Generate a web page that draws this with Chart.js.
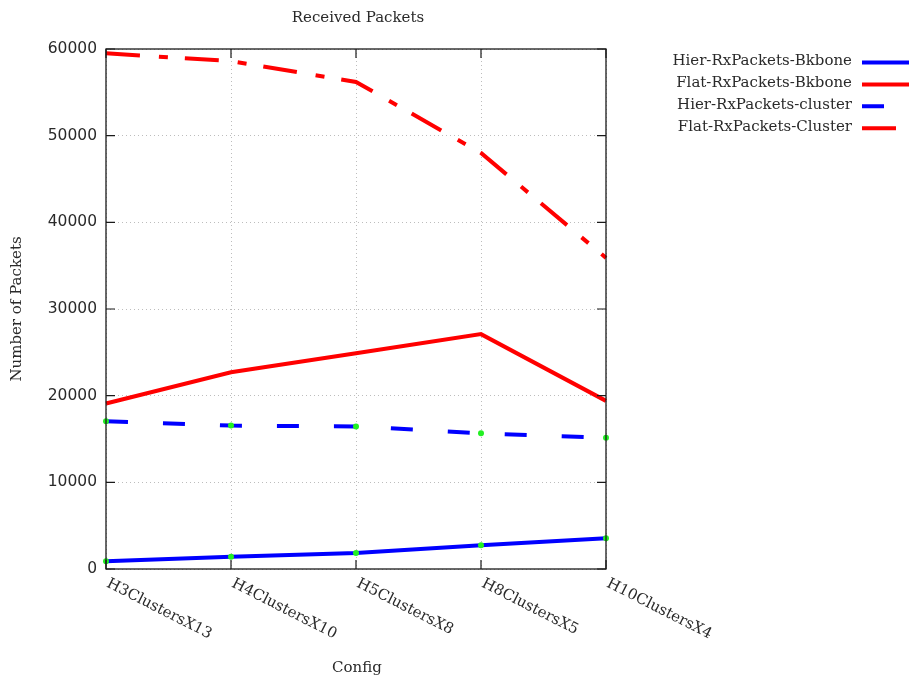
<!DOCTYPE html>
<html>
<head>
<meta charset="utf-8">
<script src="https://cdn.jsdelivr.net/npm/chart.js@4.4.1/dist/chart.umd.min.js"></script>
<style>
html,body{margin:0;padding:0;background:#fff;}
#wrap{width:909px;height:680px;position:relative;}
</style>
</head>
<body>
<div id="wrap"><canvas id="c" width="909" height="680"></canvas></div>
<script>
// ---- data ----
const categories = ["H3ClustersX13","H4ClustersX10","H5ClustersX8","H8ClustersX5","H10ClustersX4"];
const hierBkbone  = [900, 1400, 1850, 2750, 3550];
const flatBkbone  = [19100, 22700, 24900, 27100, 19400];
const hierCluster = [17050, 16550, 16450, 15650, 15150];
const flatCluster = [59500, 58600, 56200, 48000, 35900];
const yTicks = [0, 10000, 20000, 30000, 40000, 50000, 60000];
const seriesNames = ["Hier-RxPackets-Bkbone","Flat-RxPackets-Bkbone","Hier-RxPackets-cluster","Flat-RxPackets-Cluster"];
const titleText = "Received Packets";
const xTitle = "Config";
const yTitle = "Number of Packets";

const SERIF = '"DejaVu Serif", serif';
const SANS = '"DejaVu Sans", sans-serif';
const TXT = '#2a2a2a';

const overlay = {
  id: 'overlay',
  afterDraw(chart) {
    const ctx = chart.ctx;
    const a = chart.chartArea;
    const xs = chart.scales.x, ys = chart.scales.y;
    ctx.save();
    ctx.strokeStyle = '#1a1a1a';
    ctx.lineWidth = 1.3;
    ctx.setLineDash([]);
    ctx.strokeRect(a.left, a.top, a.right - a.left, a.bottom - a.top);
    ctx.lineWidth = 1.2;
    ctx.beginPath();
    yTicks.forEach(v => {
      const y = ys.getPixelForValue(v);
      ctx.moveTo(a.left, y); ctx.lineTo(a.left + 9, y);
      ctx.moveTo(a.right, y); ctx.lineTo(a.right - 9, y);
    });
    categories.forEach((c, i) => {
      const x = xs.getPixelForValue(i);
      ctx.moveTo(x, a.bottom); ctx.lineTo(x, a.bottom - 9);
      ctx.moveTo(x, a.top); ctx.lineTo(x, a.top + 9);
    });
    ctx.stroke();

    ctx.fillStyle = TXT;
    ctx.font = '15px ' + SERIF;
    ctx.textAlign = 'center';
    ctx.textBaseline = 'middle';
    ctx.fillText(titleText, (a.left + a.right) / 2 + 2, 18);
    ctx.fillText(xTitle, (a.left + a.right) / 2 + 1, 668);
    ctx.save();
    ctx.translate(17, (a.top + a.bottom) / 2);
    ctx.rotate(-Math.PI / 2);
    ctx.fillText(yTitle, 0, 0);
    ctx.restore();

    categories.forEach((c, i) => {
      const x = xs.getPixelForValue(i);
      ctx.save();
      ctx.translate(x + 5, a.bottom + 7);
      ctx.rotate(27 * Math.PI / 180);
      ctx.textAlign = 'left';
      ctx.textBaseline = 'top';
      ctx.fillText(c, 0, 0);
      ctx.restore();
    });

    chart.data.datasets.forEach((ds, i) => {
      const y = 61.5 + i * 21.9;
      ctx.fillStyle = TXT;
      ctx.textAlign = 'right';
      ctx.textBaseline = 'middle';
      ctx.fillText(ds.label, 852, y);
      ctx.strokeStyle = ds.borderColor;
      ctx.lineWidth = 4;
      ctx.setLineDash(ds.borderDash || []);
      ctx.beginPath();
      ctx.moveTo(862, y + 1);
      ctx.lineTo(930, y + 1);
      ctx.stroke();
    });
    ctx.restore();
  }
};

const green = '#22f022';
new Chart(document.getElementById('c'), {
  type: 'line',
  data: {
    labels: categories,
    datasets: [
      { label: seriesNames[0], data: hierBkbone, borderColor: '#0000ff', borderWidth: 4, borderDash: [],
        pointRadius: 3, pointBackgroundColor: green, pointBorderColor: green, pointBorderWidth: 0 },
      { label: seriesNames[1], data: flatBkbone, borderColor: '#ff0000', borderWidth: 4, borderDash: [],
        pointRadius: 0 },
      { label: seriesNames[2], data: hierCluster, borderColor: '#0000ff', borderWidth: 4, borderDash: [22, 35],
        pointRadius: 3, pointBackgroundColor: green, pointBorderColor: green, pointBorderWidth: 0 },
      { label: seriesNames[3], data: flatCluster, borderColor: '#ff0000', borderWidth: 4, borderDash: [34, 19, 9, 17],
        pointRadius: 0 }
    ]
  },
  options: {
    responsive: false,
    animation: false,
    events: [],
    layout: { padding: { left: 0, top: 49, right: 303, bottom: 0 } },
    plugins: { legend: { display: false }, title: { display: false }, tooltip: { enabled: false } },
    elements: { line: { tension: 0, borderCapStyle: 'butt' } },
    scales: {
      x: {
        type: 'category',
        offset: false,
        ticks: { display: false },
        grid: { display: true, drawTicks: false, color: '#bdbdbd', lineWidth: 1 },
        border: { display: false, dash: [1, 3] },
        afterFit(scale) { scale.height = 111; }
      },
      y: {
        min: 0, max: 60000,
        afterBuildTicks(scale) { scale.ticks = yTicks.map(v => ({ value: v })); },
        ticks: { color: TXT, font: { family: SANS, size: 15.5 }, padding: 9, callback: v => String(v) },
        grid: { display: true, drawTicks: false, color: '#bdbdbd', lineWidth: 1 },
        border: { display: false, dash: [1, 3] },
        afterFit(scale) { scale.width = 106; }
      }
    }
  },
  plugins: [overlay]
});
</script>
</body>
</html>
